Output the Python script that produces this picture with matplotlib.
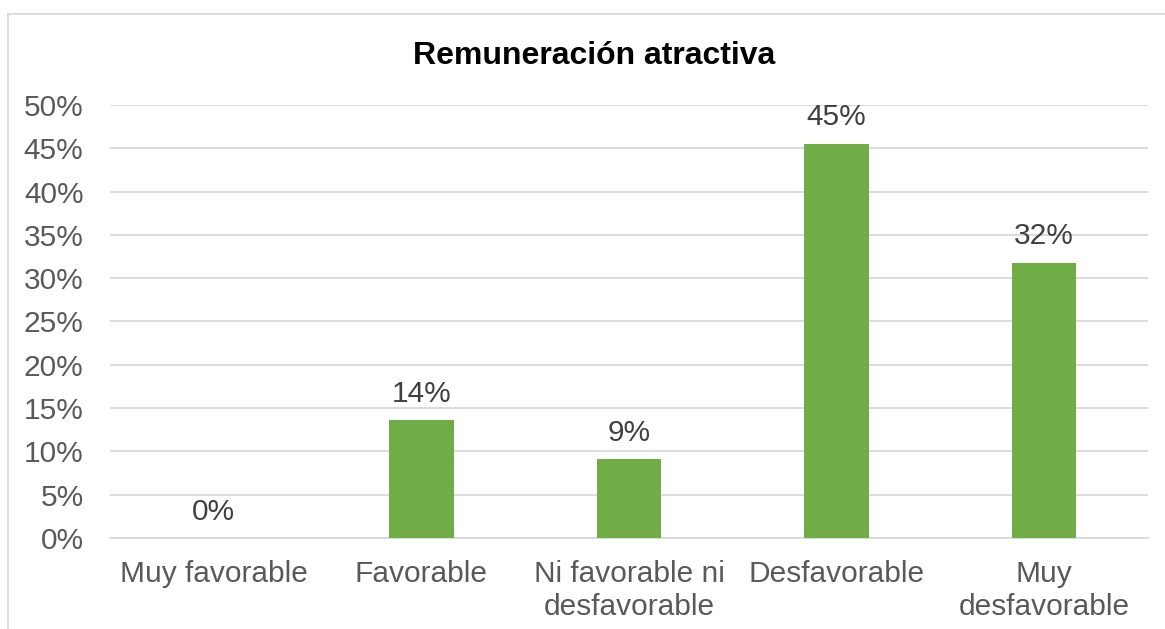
import matplotlib
matplotlib.use('Agg')
import matplotlib.pyplot as plt
from matplotlib.lines import Line2D
from matplotlib.ticker import MultipleLocator, FuncFormatter

plt.rcParams['font.family'] = ['Liberation Sans', 'DejaVu Sans']

# datos
categorias = ['Muy favorable', 'Favorable', 'Ni favorable ni\ndesfavorable',
              'Desfavorable', 'Muy\ndesfavorable']
valores = [0.0, 0.136, 0.091, 0.455, 0.318]
etiquetas = ['0%', '14%', '9%', '45%', '32%']
titulo = 'Remuneración atractiva'

fig = plt.figure(figsize=(11.65, 6.29), dpi=100)
ax = fig.add_axes([110 / 1165, 1 - 538 / 629, (1148 - 110) / 1165, (538 - 105) / 629])

x = list(range(len(categorias)))
ax.bar(x, valores, width=0.31, color='#70AD47', zorder=3)

for xi, v, lab in zip(x, valores, etiquetas):
    ax.annotate(lab, (xi, v), xytext=(0, 9), textcoords='offset points',
                ha='center', va='bottom', fontsize=21.5, color='#404040')

ax.set_xlim(-0.5, len(categorias) - 0.5)
ax.set_ylim(0, 0.5)
ax.yaxis.set_major_locator(MultipleLocator(0.05))
ax.yaxis.set_major_formatter(FuncFormatter(lambda v, p: f'{v * 100:.0f}%'))
ax.grid(axis='y', color='#D9D9D9', linewidth=1.3, zorder=0)
ax.set_xticks(x)
ax.set_xticklabels(categorias, linespacing=1.2)
ax.tick_params(axis='both', length=0, labelsize=21.5, labelcolor='#595959')
ax.tick_params(axis='x', pad=16)
ax.tick_params(axis='y', pad=19)
for s in ['top', 'right', 'left']:
    ax.spines[s].set_visible(False)
ax.spines['bottom'].set_color('#D9D9D9')
ax.spines['bottom'].set_linewidth(1.3)

fig.text(594 / 1165, 1 - 56 / 629, titulo, ha='center', va='center',
         fontsize=23, fontweight='bold', color='black')

# borde del gráfico
fig.add_artist(Line2D([8 / 1165, 1.0], [1 - 14 / 629, 1 - 14 / 629],
                      color='#D9D9D9', linewidth=1.3))
fig.add_artist(Line2D([8 / 1165, 8 / 1165], [0.0, 1 - 14 / 629],
                      color='#D9D9D9', linewidth=1.3))

fig.savefig('out.png', dpi=100)
